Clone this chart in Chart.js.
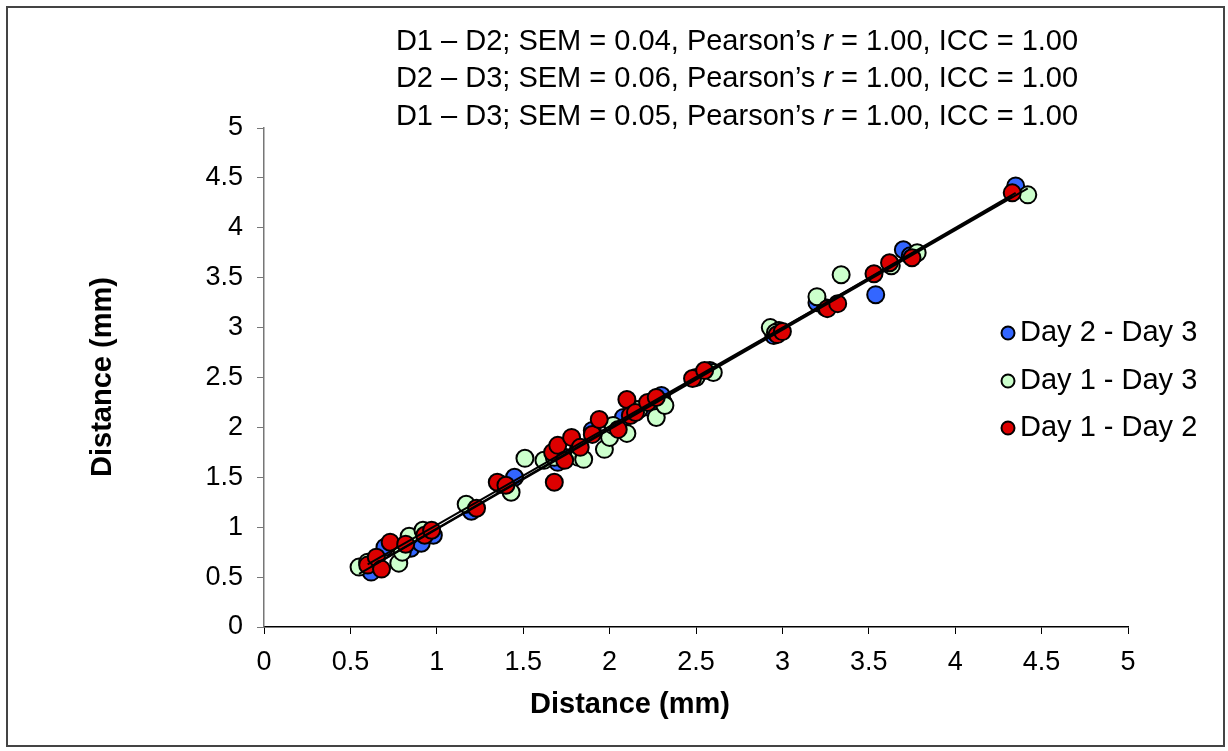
<!DOCTYPE html>
<html>
<head>
<meta charset="utf-8">
<script src="https://cdn.jsdelivr.net/npm/chart.js@4"></script>
<style>
  html,body{ margin:0; padding:0; background:#fff; }
  #wrap{ width:1228px; height:751px; }
</style>
</head>
<body>
<div id="wrap"><canvas id="chart" width="1228" height="751"></canvas></div>
<script>
/* ---------- data ---------- */
const seriesNames = ['Day 2 - Day 3', 'Day 1 - Day 3', 'Day 1 - Day 2'];
const seriesColors = ['#3366ff', '#ccffcc', '#dd0000'];

// Day 2 - Day 3
const d23x = [0.62,0.70,0.85,0.91,0.98,1.20,1.37,1.45,1.70,1.74,1.82,1.90,2.08,2.15,2.23,2.28,2.30,2.58,2.95,3.20,3.25,3.54,3.70,3.74,4.35];
const d23y = [0.55,0.80,0.79,0.84,0.92,1.16,1.43,1.50,1.65,1.70,1.78,1.97,2.10,2.18,2.20,2.30,2.32,2.57,2.92,3.25,3.20,3.33,3.78,3.72,4.42];

// Day 1 - Day 3
const d13x = [0.55,0.60,0.78,0.80,0.84,0.92,1.17,1.43,1.51,1.62,1.68,1.82,1.85,1.97,2.00,2.02,2.10,2.17,2.27,2.31,2.32,2.50,2.60,2.93,2.98,2.96,3.20,3.34,3.63,3.78,4.42];
const d13y = [0.60,0.65,0.64,0.75,0.91,0.97,1.23,1.35,1.69,1.67,1.70,1.70,1.68,1.78,1.90,2.02,1.94,2.18,2.10,2.25,2.22,2.50,2.55,3.00,2.97,2.95,3.31,3.53,3.62,3.75,4.33];

// Day 1 - Day 2
const d12x = [0.60,0.65,0.68,0.73,0.82,0.93,0.97,1.23,1.35,1.40,1.68,1.67,1.70,1.74,1.78,1.83,1.90,1.94,2.05,2.10,2.12,2.15,2.22,2.27,2.48,2.55,2.97,3.00,3.26,3.32,3.53,3.62,3.75,4.33];
const d12y = [0.62,0.70,0.58,0.85,0.83,0.92,0.97,1.19,1.45,1.42,1.45,1.75,1.82,1.67,1.90,1.80,1.93,2.08,1.98,2.28,2.12,2.15,2.25,2.30,2.49,2.57,2.93,2.96,3.19,3.24,3.54,3.65,3.70,4.35];

const axisTicks = [0,0.5,1,1.5,2,2.5,3,3.5,4,4.5,5];
const statLines = [
  ['D1 \u2013 D2; SEM = 0.04, Pearson\u2019s ', 'r', ' = 1.00, ICC = 1.00'],
  ['D2 \u2013 D3; SEM = 0.06, Pearson\u2019s ', 'r', ' = 1.00, ICC = 1.00'],
  ['D1 \u2013 D3; SEM = 0.05, Pearson\u2019s ', 'r', ' = 1.00, ICC = 1.00'],
];
const axisTitle = 'Distance (mm)';

/* ---------- helpers ---------- */
function pts(xs, ys){ return xs.map((x,i)=>({ x, y: ys[i] })); }

// least squares trend line over the range of the series
function fitLine(xs, ys){
  const n = xs.length;
  const mx = xs.reduce((a,b)=>a+b,0)/n, my = ys.reduce((a,b)=>a+b,0)/n;
  let sxy = 0, sxx = 0;
  xs.forEach((x,i)=>{ sxy += (x-mx)*(ys[i]-my); sxx += (x-mx)*(x-mx); });
  const b = sxy/sxx, a = my - b*mx;
  const x0 = Math.min(...xs), x1 = Math.max(...xs);
  return [{ x:x0, y:a+b*x0 }, { x:x1, y:a+b*x1 }];
}

const FONT = '"Liberation Sans", Arial, sans-serif';
const xsAll = [d23x, d13x, d12x], ysAll = [d23y, d13y, d12y];

// lines on top, then red, green, blue (lower order = drawn later)
const lineSets = xsAll.map((xs,i)=>({
  type:'line', label:'fit'+i, data: fitLine(xs, ysAll[i]),
  borderColor:'#000', borderWidth:2, pointRadius:0, fill:false, order:0
}));
const pointSets = xsAll.map((xs,i)=>({
  type:'scatter', label: seriesNames[i], data: pts(xs, ysAll[i]),
  backgroundColor: seriesColors[i], borderColor:'#000', borderWidth:2,
  pointRadius:8.5, pointHoverRadius:8.5, order: 3 - i
}));

/* ---------- custom drawing: frame, stats text, legend, axis titles ---------- */
const extras = {
  id:'extras',
  afterDraw(chart){
    const c = chart.ctx;
    c.save();
    // outer frame
    c.strokeStyle = '#444'; c.lineWidth = 2;
    c.strokeRect(7, 7, 1217, 739);

    // stats text
    c.fillStyle = '#000'; c.textBaseline = 'middle';
    const ys = [42, 79, 117];
    statLines.forEach((parts, i)=>{
      const fonts = ['29px '+FONT, 'italic 29px '+FONT, '29px '+FONT];
      let w = 0;
      parts.forEach((p,k)=>{ c.font = fonts[k]; w += c.measureText(p).width; });
      let x = 737 - w/2;
      c.textAlign = 'left';
      parts.forEach((p,k)=>{ c.font = fonts[k]; c.fillText(p, x, ys[i]); x += c.measureText(p).width; });
    });

    // legend
    const ly = [333, 381, 428];
    c.font = '29px '+FONT;
    seriesNames.forEach((name,i)=>{
      c.beginPath(); c.arc(1008, ly[i], 6.5, 0, Math.PI*2);
      c.fillStyle = seriesColors[i]; c.fill();
      c.strokeStyle = '#000'; c.lineWidth = 2; c.stroke();
      c.fillStyle = '#000'; c.textAlign = 'left';
      c.fillText(name, 1020, ly[i]);
    });

    // axis titles
    c.font = 'bold 29px '+FONT; c.textAlign = 'center';
    c.fillText(axisTitle, 630, 705);
    c.translate(103, 377); c.rotate(-Math.PI/2);
    c.fillText(axisTitle, 0, 0);
    c.restore();
  }
};

new Chart(document.getElementById('chart'), {
  data:{ datasets:[...lineSets, ...pointSets] },
  options:{
    responsive:false, animation:false,
    layout:{ padding:{ top:128, right:100, left:0, bottom:0 } },
    plugins:{ legend:{ display:false }, tooltip:{ enabled:false } },
    scales:{
      x:{
        type:'linear', min:0, max:5,
        afterFit(s){ s.height = 124; },
        afterBuildTicks(s){ s.ticks = axisTicks.map(v=>({ value:v })); },
        grid:{ drawOnChartArea:false, drawTicks:true, tickLength:7, color:'#000' },
        border:{ display:true, color:'#000', width:1.5 },
        ticks:{ color:'#000', font:{ family:FONT, size:27 }, padding:12, maxRotation:0,
                callback:v=>String(v) }
      },
      y:{
        type:'linear', min:0, max:5,
        afterFit(s){ s.width = 264; },
        afterBuildTicks(s){ s.ticks = axisTicks.map(v=>({ value:v })); },
        grid:{ drawOnChartArea:false, drawTicks:true, tickLength:7, color:'#777' },
        border:{ display:true, color:'#777', width:1.5 },
        ticks:{ color:'#000', font:{ family:FONT, size:27 }, padding:14,
                callback:v=>String(v) }
      }
    }
  },
  plugins:[extras]
});
</script>
</body>
</html>
